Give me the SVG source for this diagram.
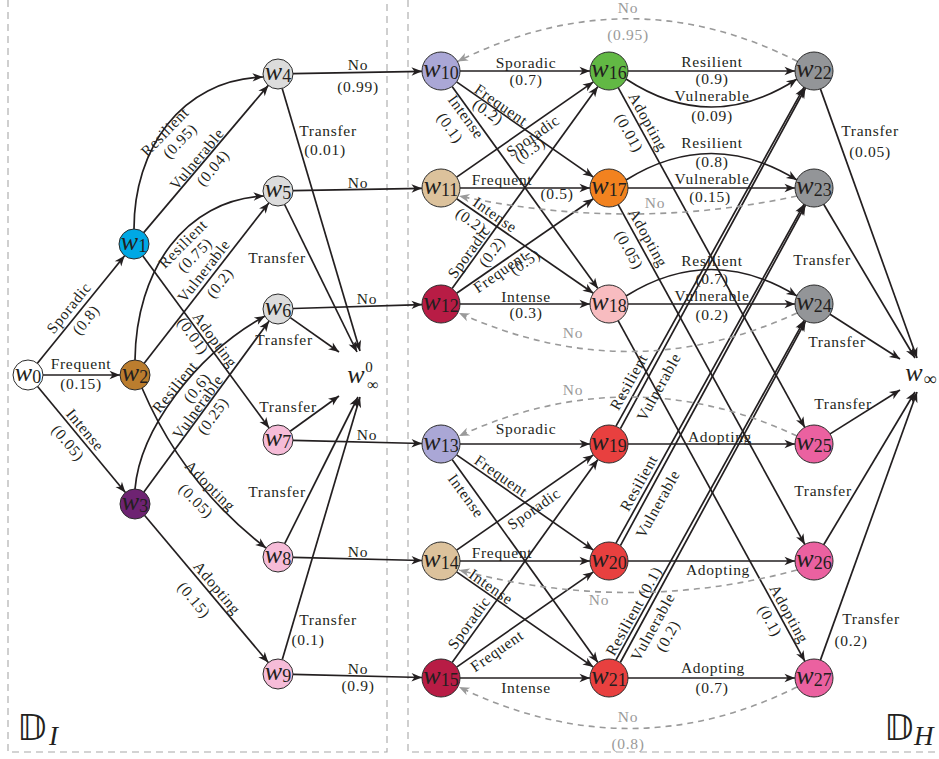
<svg xmlns="http://www.w3.org/2000/svg" width="939" height="759" viewBox="0 0 939 759">
<defs>
<marker id="ah" viewBox="-11 -5 12 10" refX="0" refY="0" markerWidth="12" markerHeight="10" orient="auto" markerUnits="userSpaceOnUse"><path d="M0,0 L-10.5,-4.2 L-7.5,0 L-10.5,4.2 Z" fill="#231f20"/></marker>
<marker id="ag" viewBox="-11 -5 12 10" refX="0" refY="0" markerWidth="12" markerHeight="10" orient="auto" markerUnits="userSpaceOnUse"><path d="M0,0 L-10.5,-4.2 L-7.5,0 L-10.5,4.2 Z" fill="#9a9a9a"/></marker>
<style>
.e{fill:none;stroke:#231f20;stroke-width:1.7;marker-end:url(#ah)}
.d{fill:none;stroke:#9a9a9a;stroke-width:1.6;stroke-dasharray:6 5;marker-end:url(#ag)}
.box{fill:none;stroke:#a8a8a8;stroke-width:1.1;stroke-dasharray:7 5}
.l{font-family:"Liberation Serif",serif;font-size:15.5px;letter-spacing:0.7px;fill:#231f20;text-anchor:middle}
.g{font-family:"Liberation Serif",serif;font-size:15.5px;letter-spacing:0.7px;fill:#9a9a9a;text-anchor:middle}
.n{font-family:"Liberation Serif",serif;fill:#231f20;text-anchor:middle}
.w{font-style:italic;font-size:26px}
.s{font-size:18px}
circle{stroke:#2b2b2b;stroke-width:1}
</style>
</defs>
<rect width="939" height="759" fill="#ffffff"/>
<g id="frames">
<path class="box" d="M8,0 V752 H387 V0"/>
<path class="box" d="M408,0 V752 H939"/>
<text x="17" y="740" style="font-family:'DejaVu Sans',sans-serif;font-size:36px;fill:#231f20">𝔻</text>
<text x="49" y="745" style="font-family:'Liberation Serif',serif;font-style:italic;font-size:27px;fill:#231f20">I</text>
<text x="884" y="740" style="font-family:'DejaVu Sans',sans-serif;font-size:36px;fill:#231f20">𝔻</text>
<text x="914" y="745" style="font-family:'Liberation Serif',serif;font-style:italic;font-size:27px;fill:#231f20">H</text>
</g>
<g id="connectors">
<path class="e" d="M37.4,363.3 L124.6,255.7"/>
<path class="e" d="M43,375 L120,375"/>
<path class="e" d="M37.6,386.5 L125.4,492.5"/>
<path class="e" d="M134,229 C134,150 180,80 263,77"/>
<path class="e" d="M143.7,232.6 L268.3,85.4"/>
<path class="e" d="M142.9,256.1 L269.1,427.9"/>
<path class="e" d="M135,360 C136,270 185,200 264,196"/>
<path class="e" d="M144.2,363.2 L268.8,202.9"/>
<path class="e" d="M142,388 Q183,484 266,548"/>
<path class="e" d="M135,489 C140,430 195,355 265,316"/>
<path class="e" d="M143.9,491.9 L269.1,321.1"/>
<path class="e" d="M144.7,515.5 L268.3,662.5"/>
<path class="e" d="M293,73.7 L422,71.3"/>
<path class="e" d="M293,190.7 L422,188.3"/>
<path class="e" d="M293,308.5 L422,304.6"/>
<path class="e" d="M293,440.4 L422,443.5"/>
<path class="e" d="M293,557.4 L422,560.5"/>
<path class="e" d="M293,674.4 L422,677.5"/>
<path class="e" d="M282.2,88.4 L360,351"/>
<path class="e" d="M284.6,204.5 L357,352"/>
<path class="e" d="M290.3,317.6 L339,352"/>
<path class="e" d="M290.2,431.2 L339,396"/>
<path class="e" d="M284.7,543.6 L358,397"/>
<path class="e" d="M282.3,659.6 L360,397"/>
<path class="e" d="M460,71 L590,71"/>
<path class="e" d="M460,188 L590,188"/>
<path class="e" d="M460,304 L590,304"/>
<path class="e" d="M456.6,81.9 L593.4,177.1"/>
<path class="e" d="M452.1,86.4 L597.9,288.6"/>
<path class="e" d="M456.6,177.1 L593.4,81.9"/>
<path class="e" d="M456.6,198.8 L593.4,293.2"/>
<path class="e" d="M452.1,288.6 L597.9,86.4"/>
<path class="e" d="M456.6,293.2 L593.4,198.8"/>
<path class="e" d="M460,444 L590,444"/>
<path class="e" d="M460,561 L590,561"/>
<path class="e" d="M460,678 L590,678"/>
<path class="e" d="M456.6,454.9 L593.4,550.1"/>
<path class="e" d="M452.1,459.4 L597.9,662.6"/>
<path class="e" d="M456.6,550.1 L593.4,454.9"/>
<path class="e" d="M456.6,571.9 L593.4,667.1"/>
<path class="e" d="M452.1,662.6 L597.9,459.4"/>
<path class="e" d="M456.6,667.1 L593.4,571.9"/>
<path class="e" d="M628,71 L795,71"/>
<path class="e" d="M626,79 Q711,135 797,79"/>
<path class="e" d="M626,180 Q711,127 797,180"/>
<path class="e" d="M628,188 L795,188"/>
<path class="e" d="M626,296 Q711,243 797,296"/>
<path class="e" d="M628,304 L795,304"/>
<path class="e" d="M618.2,87.6 L804.8,427.4"/>
<path class="e" d="M618.2,204.6 L804.8,544.4"/>
<path class="e" d="M618.1,320.7 L804.9,661.3"/>
<path class="e" d="M616,426.2 L804.1,87.2"/>
<path class="e" d="M620.4,428.6 L805.5,88"/>
<path class="e" d="M616,543.2 L804.1,204.2"/>
<path class="e" d="M620.4,545.6 L805.5,205"/>
<path class="e" d="M615.9,660.1 L804.2,320.3"/>
<path class="e" d="M620.3,662.5 L805.6,321.1"/>
<path class="e" d="M628,444 L795,444"/>
<path class="e" d="M628,561 L795,561"/>
<path class="e" d="M628,678 L795,678"/>
<path class="e" d="M820.4,88.9 L917,358"/>
<path class="e" d="M823.7,204.3 L915,358"/>
<path class="e" d="M830,314.2 L900,359"/>
<path class="e" d="M830.1,433.9 L900,390"/>
<path class="e" d="M823.7,544.7 L915,392"/>
<path class="e" d="M820.4,660.1 L917,392"/>
<path class="d" d="M797.5,61.5 Q630,-24 457.5,61.5"/>
<path class="d" d="M797,196 Q630,232 459,196"/>
<path class="d" d="M797,313 Q630,390 459,313"/>
<path class="d" d="M797,436 Q630,358 459,436"/>
<path class="d" d="M797,570 Q630,615 459,570"/>
<path class="d" d="M797,687 Q630,770 459,687"/>
</g>
<g id="edge-labels">
<text class="l" transform="translate(69,308) rotate(-51)" y="5">Sporadic</text>
<text class="l" transform="translate(86,320) rotate(-51)" y="5">(0.8)</text>
<text class="l" x="81" y="369">Frequent</text>
<text class="l" x="81" y="389">(0.15)</text>
<text class="l" transform="translate(85,430) rotate(50)" y="5">Intense</text>
<text class="l" transform="translate(68,443) rotate(50)" y="5">(0.05)</text>
<text class="l" transform="translate(165,132) rotate(-46)" y="5">Resilient</text>
<text class="l" transform="translate(180,141) rotate(-46)" y="5">(0.95)</text>
<text class="l" transform="translate(197,159) rotate(-50)" y="5">Vulnerable</text>
<text class="l" transform="translate(213,168) rotate(-50)" y="5">(0.04)</text>
<text class="l" transform="translate(183,244) rotate(-45)" y="5">Resilient</text>
<text class="l" transform="translate(195,255) rotate(-45)" y="5">(0.75)</text>
<text class="l" transform="translate(204,271) rotate(-52)" y="5">Vulnerable</text>
<text class="l" transform="translate(220,283) rotate(-52)" y="5">(0.2)</text>
<text class="l" transform="translate(215,340) rotate(54)" y="5">Adopting</text>
<text class="l" transform="translate(193,336) rotate(54)" y="5">(0.01)</text>
<text class="l" transform="translate(175,387) rotate(-51)" y="5">Resilient</text>
<text class="l" transform="translate(197,388) rotate(-51)" y="5">(0.6)</text>
<text class="l" transform="translate(198,407) rotate(-54)" y="5">Vulnerable</text>
<text class="l" transform="translate(213,416) rotate(-54)" y="5">(0.25)</text>
<text class="l" transform="translate(210,486) rotate(45)" y="5">Adopting</text>
<text class="l" transform="translate(196,501) rotate(45)" y="5">(0.05)</text>
<text class="l" transform="translate(217,588) rotate(50)" y="5">Adopting</text>
<text class="l" transform="translate(194,600) rotate(50)" y="5">(0.15)</text>
<text class="l" x="358" y="70">No</text>
<text class="l" x="358" y="92">(0.99)</text>
<text class="l" x="328" y="136">Transfer</text>
<text class="l" x="325" y="155">(0.01)</text>
<text class="l" x="358" y="188">No</text>
<text class="l" x="277" y="263">Transfer</text>
<text class="l" x="367" y="304">No</text>
<text class="l" x="284" y="345">Transfer</text>
<text class="l" x="288" y="412">Transfer</text>
<text class="l" x="367" y="440">No</text>
<text class="l" x="277" y="497">Transfer</text>
<text class="l" x="358" y="557">No</text>
<text class="l" x="328" y="625">Transfer</text>
<text class="l" x="308" y="645">(0.1)</text>
<text class="l" x="358" y="674">No</text>
<text class="l" x="358" y="691">(0.9)</text>
<text class="l" x="526" y="68">Sporadic</text>
<text class="l" x="526" y="85">(0.7)</text>
<text class="l" transform="translate(501,105) rotate(35)" y="5">Frequent</text>
<text class="l" transform="translate(488,112) rotate(35)" y="5">(0.2)</text>
<text class="l" transform="translate(466,117) rotate(54)" y="5">Intense</text>
<text class="l" transform="translate(450,128) rotate(54)" y="5">(0.1)</text>
<text class="l" transform="translate(533,136) rotate(-35)" y="5">Sporadic</text>
<text class="l" transform="translate(530,150) rotate(-35)" y="5">(0.3)</text>
<text class="l" x="502" y="185">Frequent</text>
<text class="l" x="557" y="199">(0.5)</text>
<text class="l" transform="translate(495,215) rotate(35)" y="5">Intense</text>
<text class="l" transform="translate(471,221) rotate(35)" y="5">(0.2)</text>
<text class="l" transform="translate(469,252) rotate(-54)" y="5">Sporadic</text>
<text class="l" transform="translate(492,252) rotate(-54)" y="5">(0.2)</text>
<text class="l" transform="translate(500,272) rotate(-35)" y="5">Frequent</text>
<text class="l" transform="translate(525,262) rotate(-35)" y="5">(0.5)</text>
<text class="l" x="526" y="302">Intense</text>
<text class="l" x="526" y="318">(0.3)</text>
<text class="l" x="526" y="434">Sporadic</text>
<text class="l" transform="translate(501,476) rotate(35)" y="5">Frequent</text>
<text class="l" transform="translate(466,496) rotate(54)" y="5">Intense</text>
<text class="l" transform="translate(534,509) rotate(-35)" y="5">Sporadic</text>
<text class="l" x="502" y="558">Frequent</text>
<text class="l" transform="translate(491,587) rotate(35)" y="5">Intense</text>
<text class="l" transform="translate(469,623) rotate(-54)" y="5">Sporadic</text>
<text class="l" transform="translate(497,651) rotate(-35)" y="5">Frequent</text>
<text class="l" x="526" y="693">Intense</text>
<text class="l" x="712" y="67">Resilient</text>
<text class="l" x="712" y="84">(0.9)</text>
<text class="l" x="712" y="101">Vulnerable</text>
<text class="l" x="712" y="121">(0.09)</text>
<text class="l" transform="translate(648,122) rotate(61)" y="5">Adopting</text>
<text class="l" transform="translate(629,133) rotate(61)" y="5">(0.01)</text>
<text class="l" x="712" y="148">Resilient</text>
<text class="l" x="712" y="167">(0.8)</text>
<text class="l" x="712" y="184">Vulnerable</text>
<text class="l" x="710" y="202">(0.15)</text>
<text class="l" transform="translate(648,238) rotate(61)" y="5">Adopting</text>
<text class="l" transform="translate(629,250) rotate(61)" y="5">(0.05)</text>
<text class="l" x="712" y="266">Resilient</text>
<text class="l" x="712" y="284">(0.7)</text>
<text class="l" x="712" y="301">Vulnerable</text>
<text class="l" x="712" y="320">(0.2)</text>
<text class="l" transform="translate(629,382) rotate(-61)" y="5">Resilient</text>
<text class="l" transform="translate(659,387) rotate(-61)" y="5">Vulnerable</text>
<text class="l" x="720" y="442">Adopting</text>
<text class="l" transform="translate(639,483) rotate(-61)" y="5">Resilient</text>
<text class="l" transform="translate(658,504) rotate(-61)" y="5">Vulnerable</text>
<text class="l" x="718" y="575">Adopting</text>
<text class="l" transform="translate(789,614) rotate(61)" y="5">Adopting</text>
<text class="l" transform="translate(770,621) rotate(61)" y="5">(0.1)</text>
<text class="l" transform="translate(634,611) rotate(-61)" y="5">Resilient (0.1)</text>
<text class="l" transform="translate(653,627) rotate(-61)" y="5">Vulnerable</text>
<text class="l" transform="translate(668,636) rotate(-61)" y="5">(0.2)</text>
<text class="l" x="713" y="673">Adopting</text>
<text class="l" x="712" y="693">(0.7)</text>
<text class="l" x="870" y="136">Transfer</text>
<text class="l" x="870" y="157">(0.05)</text>
<text class="l" x="822" y="265">Transfer</text>
<text class="l" x="837" y="347">Transfer</text>
<text class="l" x="843" y="409">Transfer</text>
<text class="l" x="823" y="496">Transfer</text>
<text class="l" x="871" y="624">Transfer</text>
<text class="l" x="851" y="646">(0.2)</text>
<text class="g" x="628" y="13">No</text>
<text class="g" x="628" y="40">(0.95)</text>
<text class="g" x="655" y="208">No</text>
<text class="g" x="573" y="338">No</text>
<text class="g" x="573" y="395">No</text>
<text class="g" x="599" y="605">No</text>
<text class="g" x="628" y="722">No</text>
<text class="g" x="628" y="749">(0.8)</text>
</g>
<g id="w0"><circle cx="28" cy="375" r="15" fill="#ffffff"/><text class="n" x="28" y="381"><tspan class="w">w</tspan><tspan class="s" dy="1.5">0</tspan></text></g>
<g id="w1"><circle cx="134" cy="244" r="15" fill="#00a8e4"/><text class="n" x="134" y="250"><tspan class="w">w</tspan><tspan class="s" dy="1.5">1</tspan></text></g>
<g id="w2"><circle cx="135" cy="375" r="15" fill="#bb7d2e"/><text class="n" x="135" y="381"><tspan class="w">w</tspan><tspan class="s" dy="1.5">2</tspan></text></g>
<g id="w3"><circle cx="135" cy="504" r="15" fill="#6e2372"/><text class="n" x="135" y="510"><tspan class="w">w</tspan><tspan class="s" dy="1.5">3</tspan></text></g>
<g id="w4"><circle cx="278" cy="74" r="15" fill="#dcdcdc"/><text class="n" x="278" y="80"><tspan class="w">w</tspan><tspan class="s" dy="1.5">4</tspan></text></g>
<g id="w5"><circle cx="278" cy="191" r="15" fill="#dcdcdc"/><text class="n" x="278" y="197"><tspan class="w">w</tspan><tspan class="s" dy="1.5">5</tspan></text></g>
<g id="w6"><circle cx="278" cy="309" r="15" fill="#dcdcdc"/><text class="n" x="278" y="315"><tspan class="w">w</tspan><tspan class="s" dy="1.5">6</tspan></text></g>
<g id="w7"><circle cx="278" cy="440" r="15" fill="#f6bcd8"/><text class="n" x="278" y="446"><tspan class="w">w</tspan><tspan class="s" dy="1.5">7</tspan></text></g>
<g id="w8"><circle cx="278" cy="557" r="15" fill="#f6bcd8"/><text class="n" x="278" y="563"><tspan class="w">w</tspan><tspan class="s" dy="1.5">8</tspan></text></g>
<g id="w9"><circle cx="278" cy="674" r="15" fill="#f6bcd8"/><text class="n" x="278" y="680"><tspan class="w">w</tspan><tspan class="s" dy="1.5">9</tspan></text></g>
<g id="w_inf0"><text class="n" x="356" y="383"><tspan class="w">w</tspan></text><text class="n" x="369" y="372" style="font-size:15px">0</text><text class="n" x="373" y="390" style="font-size:16px">∞</text></g>
<g id="w10"><circle cx="441" cy="71" r="19" fill="#aaa7d6"/><text class="n" x="441" y="77"><tspan class="w">w</tspan><tspan class="s" dy="1.5">10</tspan></text></g>
<g id="w11"><circle cx="441" cy="188" r="19" fill="#dcc29c"/><text class="n" x="441" y="194"><tspan class="w">w</tspan><tspan class="s" dy="1.5">11</tspan></text></g>
<g id="w12"><circle cx="441" cy="304" r="19" fill="#b81c45"/><text class="n" x="441" y="310"><tspan class="w">w</tspan><tspan class="s" dy="1.5">12</tspan></text></g>
<g id="w13"><circle cx="441" cy="444" r="19" fill="#aaa7d6"/><text class="n" x="441" y="450"><tspan class="w">w</tspan><tspan class="s" dy="1.5">13</tspan></text></g>
<g id="w14"><circle cx="441" cy="561" r="19" fill="#dcc29c"/><text class="n" x="441" y="567"><tspan class="w">w</tspan><tspan class="s" dy="1.5">14</tspan></text></g>
<g id="w15"><circle cx="441" cy="678" r="19" fill="#b81c45"/><text class="n" x="441" y="684"><tspan class="w">w</tspan><tspan class="s" dy="1.5">15</tspan></text></g>
<g id="w16"><circle cx="609" cy="71" r="19" fill="#62b844"/><text class="n" x="609" y="77"><tspan class="w">w</tspan><tspan class="s" dy="1.5">16</tspan></text></g>
<g id="w17"><circle cx="609" cy="188" r="19" fill="#f2821f"/><text class="n" x="609" y="194"><tspan class="w">w</tspan><tspan class="s" dy="1.5">17</tspan></text></g>
<g id="w18"><circle cx="609" cy="304" r="19" fill="#f8bcc0"/><text class="n" x="609" y="310"><tspan class="w">w</tspan><tspan class="s" dy="1.5">18</tspan></text></g>
<g id="w19"><circle cx="609" cy="444" r="19" fill="#e8403f"/><text class="n" x="609" y="450"><tspan class="w">w</tspan><tspan class="s" dy="1.5">19</tspan></text></g>
<g id="w20"><circle cx="609" cy="561" r="19" fill="#e8403f"/><text class="n" x="609" y="567"><tspan class="w">w</tspan><tspan class="s" dy="1.5">20</tspan></text></g>
<g id="w21"><circle cx="609" cy="678" r="19" fill="#e8403f"/><text class="n" x="609" y="684"><tspan class="w">w</tspan><tspan class="s" dy="1.5">21</tspan></text></g>
<g id="w22"><circle cx="814" cy="71" r="19" fill="#939598"/><text class="n" x="814" y="77"><tspan class="w">w</tspan><tspan class="s" dy="1.5">22</tspan></text></g>
<g id="w23"><circle cx="814" cy="188" r="19" fill="#939598"/><text class="n" x="814" y="194"><tspan class="w">w</tspan><tspan class="s" dy="1.5">23</tspan></text></g>
<g id="w24"><circle cx="814" cy="304" r="19" fill="#939598"/><text class="n" x="814" y="310"><tspan class="w">w</tspan><tspan class="s" dy="1.5">24</tspan></text></g>
<g id="w25"><circle cx="814" cy="444" r="19" fill="#eb61a0"/><text class="n" x="814" y="450"><tspan class="w">w</tspan><tspan class="s" dy="1.5">25</tspan></text></g>
<g id="w26"><circle cx="814" cy="561" r="19" fill="#eb61a0"/><text class="n" x="814" y="567"><tspan class="w">w</tspan><tspan class="s" dy="1.5">26</tspan></text></g>
<g id="w27"><circle cx="814" cy="678" r="19" fill="#eb61a0"/><text class="n" x="814" y="684"><tspan class="w">w</tspan><tspan class="s" dy="1.5">27</tspan></text></g>
<g id="w_inf"><text class="n" x="914" y="381"><tspan class="w">w</tspan></text><text class="n" x="930" y="385" style="font-size:18px">∞</text></g>
</svg>
